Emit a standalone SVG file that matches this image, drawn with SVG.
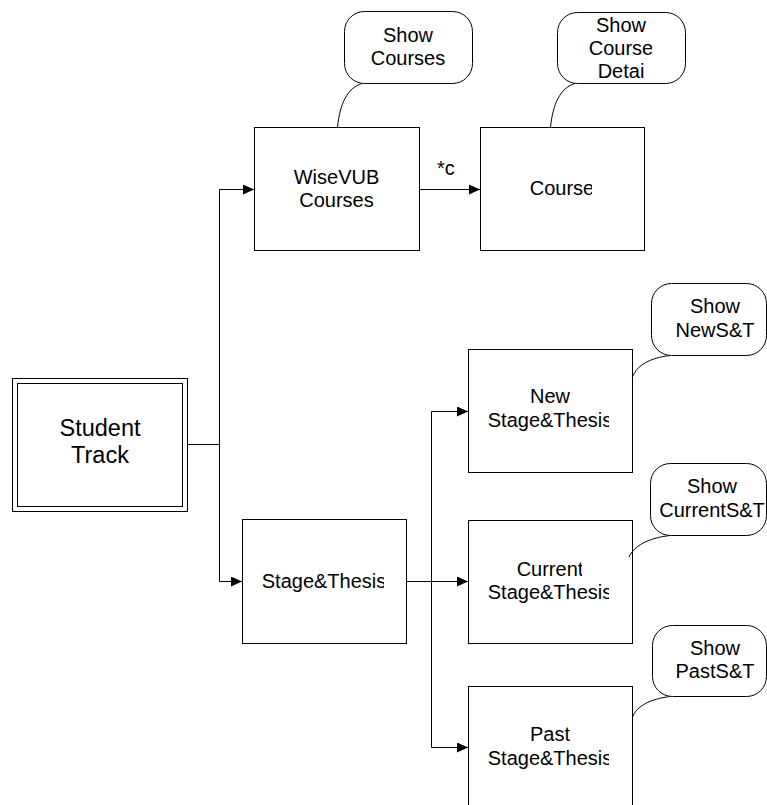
<svg xmlns="http://www.w3.org/2000/svg" width="767" height="805" viewBox="0 0 767 805">
  <style>
    .box { fill: #fff; stroke: #000; stroke-width: 1; }
    .bubble { fill: #fff; stroke: #000; stroke-width: 1; }
    .tail { fill: none; stroke: #000; stroke-width: 1; }
    .wire { fill: none; stroke: #000; stroke-width: 1; }
    text { font-family: "Liberation Sans", Arial, sans-serif; font-size: 20px; fill: #000; text-anchor: middle; }
    .big { font-size: 23.5px; }
  </style>
  <defs>
    <marker id="arrow" viewBox="0 0 11 10" refX="11" refY="5" markerWidth="11" markerHeight="10" markerUnits="userSpaceOnUse" orient="auto">
      <path d="M0 0 L11 5 L0 10 Z" fill="#000"/>
    </marker>
    <clipPath id="clip-course"><rect x="480" y="127" width="112" height="123"/></clipPath>
    <clipPath id="clip-st"><rect x="242" y="519" width="142" height="124"/></clipPath>
    <clipPath id="clip-new"><rect x="468" y="349" width="141" height="123"/></clipPath>
    <clipPath id="clip-cur"><rect x="468" y="520" width="141" height="123"/></clipPath>
    <clipPath id="clip-cur1"><rect x="468" y="520" width="114" height="123"/></clipPath>
    <clipPath id="clip-past"><rect x="468" y="686" width="141" height="123"/></clipPath>
    <clipPath id="clip-detail"><rect x="557" y="12" width="95" height="71"/></clipPath>
  </defs>

  <!-- connectors -->
  <g id="connectors">
    <path class="wire" d="M187.5 444.5 H219.5"/>
    <path class="wire" d="M219.5 189.5 V581.5"/>
    <path class="wire" d="M219.5 189.5 H254" marker-end="url(#arrow)"/>
    <path class="wire" d="M219.5 581.5 H242" marker-end="url(#arrow)"/>
    <path class="wire" d="M419 189.5 H480" marker-end="url(#arrow)"/>
    <text x="437" y="175" style="text-anchor:start">*c</text>
    <path class="wire" d="M406 581.5 H468" marker-end="url(#arrow)"/>
    <path class="wire" d="M431.5 411.5 V747.5"/>
    <path class="wire" d="M431.5 411.5 H468" marker-end="url(#arrow)"/>
    <path class="wire" d="M431.5 747.5 H468" marker-end="url(#arrow)"/>
  </g>

  <!-- nodes -->
  <g id="student-track">
    <rect class="box" x="12.5" y="378.5" width="175" height="133"/>
    <rect class="box" x="17.5" y="383.5" width="165" height="123"/>
    <text class="big" x="100" y="435.5">Student</text>
    <text class="big" x="100" y="463">Track</text>
  </g>

  <g id="wisevub-courses">
    <rect class="box" x="254.5" y="127.5" width="165" height="123"/>
    <text x="336.5" y="184">WiseVUB</text>
    <text x="336.5" y="207">Courses</text>
  </g>

  <g id="course">
    <rect class="box" x="480.5" y="127.5" width="164" height="123"/>
    <text x="562" y="195" clip-path="url(#clip-course)">Course</text>
  </g>

  <g id="stage-thesis">
    <rect class="box" x="242.5" y="519.5" width="164" height="124"/>
    <text x="324" y="588" clip-path="url(#clip-st)">Stage&amp;Thesis</text>
  </g>

  <g id="new-stage-thesis">
    <rect class="box" x="468.5" y="349.5" width="164" height="123"/>
    <text x="550" y="403">New</text>
    <text x="550" y="427" clip-path="url(#clip-new)">Stage&amp;Thesis</text>
  </g>

  <g id="current-stage-thesis">
    <rect class="box" x="468.5" y="520.5" width="164" height="123"/>
    <text x="550" y="576" clip-path="url(#clip-cur1)">Current</text>
    <text x="550" y="599" clip-path="url(#clip-cur)">Stage&amp;Thesis</text>
  </g>

  <g id="past-stage-thesis">
    <rect class="box" x="468.5" y="686.5" width="164" height="124"/>
    <text x="550" y="741">Past</text>
    <text x="550" y="765" clip-path="url(#clip-past)">Stage&amp;Thesis</text>
  </g>

  <g id="show-courses">
    <path class="tail" d="M362 83.5 C347 88 340 104 337.5 127"/>
    <rect class="bubble" x="344.5" y="11.5" width="128" height="72" rx="20" ry="20"/>
    <text x="408" y="42">Show</text>
    <text x="408" y="65">Courses</text>
  </g>

  <g id="show-course-detail">
    <path class="tail" d="M575 83.5 C560 88 553 104 550.5 127"/>
    <rect class="bubble" x="557.5" y="12.5" width="128" height="71" rx="20" ry="20"/>
    <text x="621" y="32">Show</text>
    <text x="621" y="55" clip-path="url(#clip-detail)">Course</text>
    <text x="621" y="78">Detai</text>
  </g>

  <g id="show-new">
    <path class="tail" d="M670 355.5 C650 358 637 365 632.5 377"/>
    <rect class="bubble" x="651.5" y="283.5" width="115" height="72" rx="20" ry="20"/>
    <text x="715" y="313">Show</text>
    <text x="715" y="337">NewS&amp;T</text>
  </g>

  <g id="show-current">
    <path class="tail" d="M670 535.5 C648 538 634 546 629 557"/>
    <rect class="bubble" x="650.5" y="463.5" width="116" height="72" rx="20" ry="20"/>
    <text x="712" y="493">Show</text>
    <text x="712" y="517">CurrentS&amp;T</text>
  </g>

  <g id="show-past">
    <path class="tail" d="M670 696.5 C650 699 637 706 632.5 717"/>
    <rect class="bubble" x="652.5" y="625.5" width="114" height="71" rx="20" ry="20"/>
    <text x="715" y="655">Show</text>
    <text x="715" y="678">PastS&amp;T</text>
  </g>
</svg>
